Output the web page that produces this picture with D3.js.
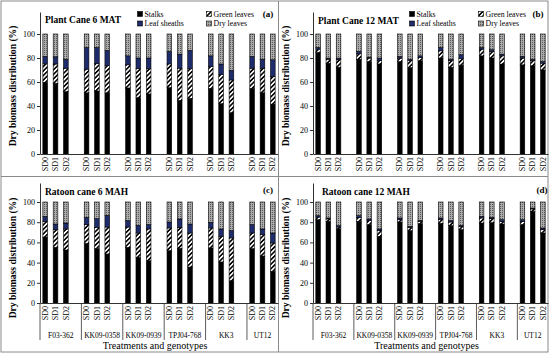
<!DOCTYPE html>
<html>
<head>
<meta charset="utf-8">
<script src="https://cdn.jsdelivr.net/npm/d3@7"></script>
<style>
  body { margin: 0; background: #fff; }
  svg { display: block; }
</style>
</head>
<body>
<svg id="chart" width="550" height="356"></svg>
<script>
/** categories */
const genotypes = ["F03-362", "KK09-0358", "KK09-0939", "TPJ04-768", "KK3", "UT12"];
const treatments = ["SD0", "SD1", "SD2"];
const yTicks = [0, 20, 40, 60, 80, 100];

/** (a) plant cane 6 MAT, % of dry biomass, bars in genotype x treatment order */
const stalksA = [59.8, 58.9, 52.0, 51.0, 52.5, 51.0, 55.0, 47.0, 50.0, 55.3, 44.7, 46.4, 54.7, 41.9, 34.4, 54.7, 51.0, 41.6];
const greenA  = [15.3, 16.1, 19.5, 19.7, 22.9, 22.7, 19.3, 24.2, 21.0, 19.8, 26.8, 24.6, 18.2, 24.3, 27.3, 16.8, 20.5, 22.9];
const sheathA = [ 6.2,  6.0,  7.5, 18.1, 13.4, 12.6,  7.5,  8.8,  9.0, 10.4, 11.7, 15.3,  8.9,  8.8,  7.9,  9.8,  7.5, 14.0];
const dryA    = [18.7, 19.0, 21.0, 11.2, 11.2, 13.7, 18.2, 20.0, 20.0, 14.5, 16.8, 13.7, 18.2, 25.0, 30.4, 18.7, 21.0, 21.5];

/** (b) plant cane 12 MAT */
const stalksB = [84.6, 75.7, 72.3, 79.0, 77.0, 75.1, 77.0, 72.0, 77.7, 80.0, 72.3, 74.0, 81.8, 80.0, 75.0, 74.3, 73.5, 70.0];
const greenB  = [ 2.8,  3.3,  6.2,  4.5,  2.9,  2.9,  2.9,  6.0,  2.7,  6.0,  5.4,  5.6,  5.6,  5.5,  6.8,  5.6,  4.5,  5.7];
const sheathB = [ 1.4,  0.9,  1.4,  2.0,  0.8,  1.9,  1.4,  1.0,  1.4,  2.8,  1.3,  3.1,  1.4,  1.4,  1.4,  1.4,  1.0,  1.3];
const dryB    = [11.2, 20.1, 20.1, 14.5, 19.3, 20.1, 18.7, 21.0, 18.2, 11.2, 21.0, 17.3, 11.2, 13.1, 16.8, 18.7, 21.0, 23.0];

/** (c) ratoon cane 6 MAH */
const stalksC = [65.3, 55.1, 52.5, 59.0, 53.8, 48.5, 55.1, 45.2, 41.9, 51.8, 54.1, 35.6, 54.5, 40.6, 22.1, 53.8, 46.5, 31.4];
const greenC  = [15.6, 17.5, 20.8, 18.6, 21.1, 26.7, 20.1, 24.1, 31.4, 22.5, 20.8, 33.7, 19.8, 25.4, 42.3, 15.5, 21.2, 28.0];
const sheathC = [ 4.9,  5.6,  5.9,  7.2,  8.6, 11.6,  6.3,  7.6,  4.3,  5.9,  8.3,  8.9,  5.6,  7.3,  7.2,  8.3,  5.6,  9.9];
const dryC    = [14.2, 21.8, 20.8, 15.2, 16.5, 13.2, 18.5, 23.1, 22.4, 19.8, 16.8, 21.8, 20.1, 26.7, 28.4, 22.4, 26.7, 30.7];

/** (d) ratoon cane 12 MAH */
const stalksD = [82.5, 80.9, 73.6, 80.9, 77.6, 66.0, 80.2, 71.6, 78.5, 78.9, 76.6, 72.6, 79.2, 79.5, 78.2, 77.6, 90.8, 69.3];
const greenD  = [ 2.6,  2.3,  1.6,  3.9,  3.9,  5.6,  2.3,  3.3,  2.4,  3.6,  3.6,  3.3,  5.0,  4.0,  2.7,  3.3,  2.3,  3.3];
const sheathD = [ 1.4,  1.0,  1.4,  1.7,  1.7,  1.7,  1.7,  1.0,  0.9,  1.7,  1.3,  1.0,  1.6,  1.3,  1.6,  1.6,  0.9,  1.7];
const dryD    = [13.5, 15.8, 23.4, 13.5, 16.8, 26.7, 15.8, 24.1, 18.2, 15.8, 18.5, 23.1, 14.2, 15.2, 17.5, 17.5,  6.0, 25.7];

const serif = "'Liberation Serif', 'Times New Roman', serif";
const svg = d3.select("#chart");

/** fills */
const defs = svg.append("defs");
const hatch = defs.append("pattern").attr("id", "hatch")
  .attr("patternUnits", "userSpaceOnUse").attr("width", 3.2).attr("height", 3.2)
  .attr("patternTransform", "rotate(45)");
hatch.append("rect").attr("width", 3.2).attr("height", 3.2).attr("fill", "#fff");
hatch.append("rect").attr("width", 1.6).attr("height", 3.2).attr("fill", "#000");
const dots = defs.append("pattern").attr("id", "dots")
  .attr("patternUnits", "userSpaceOnUse").attr("width", 2).attr("height", 2);
dots.append("rect").attr("width", 2).attr("height", 2).attr("fill", "#ababab");
dots.append("rect").attr("width", 1).attr("height", 1).attr("fill", "#5a5a5a");

const parts = [
  { key: "stalks", name: "Stalks", fill: "#000" },
  { key: "green", name: "Green leaves", fill: "url(#hatch)" },
  { key: "sheath", name: "Leaf sheaths", fill: "#1f2c6c" },
  { key: "dry", name: "Dry leaves", fill: "url(#dots)" },
];

/** slots: three treatments per genotype plus an empty slot between groups */
const slots = genotypes.flatMap((g, gi) => [
  ...treatments.map((t) => `${g}|${t}`),
  ...(gi < genotypes.length - 1 ? [`gap${gi}`] : []),
]);

const panels = [
  { title: "Plant Cane 6 MAT", tag: "(a)", data: [stalksA, greenA, sheathA, dryA],
    left: 40, right: 278, y0: 154, yTop: 12, groups: false, legend: [140, 14], tagX: 268, tagY: 17, titleY: 23, yTitle: 86 },
  { title: "Plant Cane 12 MAT", tag: "(b)", data: [stalksB, greenB, sheathB, dryB],
    left: 313, right: 548, y0: 154, yTop: 12, groups: false, legend: [412, 14], tagX: 538, tagY: 17, titleY: 24, yTitle: 86, titleX: 318 },
  { title: "Ratoon cane 6 MAH", tag: "(c)", data: [stalksC, greenC, sheathC, dryC],
    left: 40, right: 278, y0: 303, yTop: 183, groups: true, tagX: 268, tagY: 193, titleY: 195, yTitle: 258 },
  { title: "Ratoon cane 12 MAH", tag: "(d)", data: [stalksD, greenD, sheathD, dryD],
    left: 313, right: 548, y0: 303, yTop: 183, groups: true, tagX: 542, tagY: 193, titleY: 195, yTitle: 258, titleX: 322 },
];

/** panel frames */
svg.append("rect").attr("x", 1).attr("y", 1).attr("width", 547).attr("height", 351)
  .attr("fill", "none").attr("stroke", "#8a8a8a");
svg.append("line").attr("x1", 278.5).attr("x2", 278.5).attr("y1", 1).attr("y2", 352).attr("stroke", "#8a8a8a");
svg.append("line").attr("x1", 1).attr("x2", 548).attr("y1", 176.5).attr("y2", 176.5).attr("stroke", "#8a8a8a");

for (const p of panels) {
  const g = svg.append("g");
  const yMax = 100 * (p.y0 - p.yTop) / ((p.y0 - p.yTop) > 130 ? 120 : 101);
  const y = d3.scaleLinear().domain([0, yMax]).range([p.y0, p.yTop]);
  const x = d3.scaleBand().domain(slots).range([p.left, p.right])
    .paddingInner(0.55).paddingOuter(0.275);

  /** rows for stacking */
  const rows = [];
  genotypes.forEach((gen, gi) => treatments.forEach((t, ti) => {
    const i = gi * 3 + ti;
    rows.push({ slot: `${gen}|${t}`, stalks: p.data[0][i], green: p.data[1][i], sheath: p.data[2][i], dry: p.data[3][i] });
  }));
  const series = d3.stack().keys(parts.map((d) => d.key))(rows);

  series.forEach((s, si) => {
    g.append("g").selectAll("rect").data(s).join("rect")
      .attr("x", (d) => x(d.data.slot))
      .attr("width", x.bandwidth())
      .attr("y", (d) => y(d[1]))
      .attr("height", (d) => y(d[0]) - y(d[1]))
      .attr("fill", parts[si].fill)
      .attr("stroke", "#000")
      .attr("stroke-width", 0.6);
  });

  /** y axis */
  g.append("g").attr("transform", `translate(${p.left},0)`)
    .call(d3.axisLeft(y).tickValues(yTicks).tickSize(3).tickSizeOuter(0))
    .call((a) => a.attr("font-family", serif).attr("font-size", 8))
    .call((a) => a.selectAll("path, line").attr("stroke", "#333"))
    .call((a) => a.selectAll("text").attr("fill", "#000").attr("x", -5));

  /** x axis with treatment labels */
  g.append("g").attr("transform", `translate(0,${p.y0})`)
    .call(d3.axisBottom(x).tickSize(0).tickSizeOuter(0)
      .tickFormat((d) => (d.startsWith("gap") ? "" : d.split("|")[1])))
    .call((a) => a.attr("font-family", serif).attr("font-size", 8))
    .call((a) => a.select(".domain").attr("stroke", "#333"))
    .call((a) => a.selectAll("text").attr("fill", "#000")
      .attr("transform", "rotate(-90)").attr("text-anchor", "end")
      .attr("x", -3).attr("y", 0).attr("dy", "0.33em"));

  /** genotype groups below the treatment labels */
  if (p.groups) {
    const step = x.step();
    const bounds = genotypes.map((gen, gi) => {
      const start = p.left + step * (gi * 4);
      const end = Math.min(p.left + step * (gi * 4 + 4), p.right);
      return { gen, start, end };
    });
    g.append("g").selectAll("line").data(bounds).join("line")
      .attr("x1", (d) => d.start).attr("x2", (d) => d.start)
      .attr("y1", p.y0).attr("y2", p.y0 + 37)
      .attr("stroke", "#333").attr("stroke-width", 0.8);
    g.append("g").selectAll("text").data(bounds).join("text")
      .attr("x", (d) => (d.start + d.end) / 2).attr("y", p.y0 + 35)
      .attr("text-anchor", "middle").attr("font-family", serif).attr("font-size", 7.5)
      .text((d) => d.gen);
    g.append("text").attr("x", (p.left + p.right) / 2 - 4).attr("y", p.y0 + 46)
      .attr("text-anchor", "middle").attr("font-family", serif).attr("font-size", 10)
      .text("Treatments and genotypes");
  }

  /** titles */
  g.append("text").attr("x", p.titleX || 45).attr("y", p.titleY)
    .attr("font-family", serif).attr("font-size", 9.5).attr("font-weight", "bold")
    .text(p.title);
  g.append("text").attr("x", p.tagX).attr("y", p.tagY).attr("text-anchor", "middle")
    .attr("font-family", serif).attr("font-size", 9).attr("font-weight", "bold")
    .text(p.tag);
  g.append("text")
    .attr("transform", `translate(${p.left - 24},${p.yTitle}) rotate(-90)`)
    .attr("text-anchor", "middle").attr("font-family", serif)
    .attr("font-size", 9.6).attr("font-weight", "bold")
    .text("Dry biomass distribution  (%)");

  /** legend (top panels only) */
  if (p.legend) {
    const [lx, ly] = p.legend;
    const order = [parts[0], parts[2], parts[1], parts[3]];
    order.forEach((d, i) => {
      const cx = lx + (i > 1 ? 69 : 0);
      const cy = ly + (i % 2) * 9.5;
      g.append("rect").attr("x", cx - 2.5).attr("y", cy - 2.5).attr("width", 5).attr("height", 5)
        .attr("fill", d.fill).attr("stroke", "#000").attr("stroke-width", 0.6);
      g.append("text").attr("x", cx + 4.5).attr("y", cy + 2.7)
        .attr("font-family", serif).attr("font-size", 7.8).text(d.name);
    });
  }
}
</script>
</body>
</html>
